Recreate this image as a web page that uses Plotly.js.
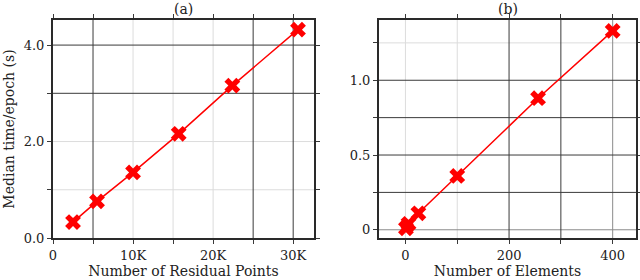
<!DOCTYPE html>
<html><head><meta charset="utf-8">
<script src="https://cdn.plot.ly/plotly-3.0.1.min.js"></script>
<style>html,body{margin:0;padding:0;background:#fff}#c{width:640px;height:280px}</style>
</head><body><div id="c"></div>
<script>
// Panel (a)
const residualPoints = [2500, 5500, 10000, 15700, 22400, 30600];
const timeA = [0.33, 0.76, 1.36, 2.16, 3.16, 4.32];
// Panel (b)
const elements = [1, 6, 25, 100, 256, 400];
const timeB = [0.01, 0.04, 0.11, 0.36, 0.88, 1.33];

const xTickValsA = [0, 5000, 10000, 15000, 20000, 25000, 30000];
const xTickTextA = ['0', '', '10K', '', '20K', '', '30K'];
const yTickValsA = [0, 1, 2, 3, 4];
const yTickTextA = ['0.0', '', '2.0', '', '4.0'];
const xTickValsB = [0, 100, 200, 300, 400];
const xTickTextB = ['0', '', '200', '', '400'];
const yTickValsB = [0, 0.25, 0.5, 0.75, 1.0, 1.25];
const yTickTextB = ['0', '', '0.5', '', '1.0', ''];

// grid lines (as in the reference, some dark, some light)
const gridA_xDark = [5000, 25000, 30000], gridA_xLight = [10000, 15000, 20000];
const gridA_yDark = [3, 4], gridA_yLight = [1, 2];
const gridB_xDark = [200, 300], gridB_xMid = [400], gridB_xLight = [0, 100];
const gridB_yDark = [0.25, 0.5, 0.75, 1.0], gridB_yMid = [0], gridB_yLight = [1.25];

const DARK = '#3a3a3a', MID = '#8a8a8a', LIGHT = '#dcdcdc';
const FONT = 'DejaVu Serif, Liberation Serif, serif';

function vlines(vals, xref, yref, color) {
  return vals.map(v => ({type:'line', xref:xref, yref:yref + ' domain', x0:v, x1:v, y0:0, y1:1,
    line:{color:color, width:1}, layer:'below'}));
}
function hlines(vals, xref, yref, color) {
  return vals.map(v => ({type:'line', xref:xref + ' domain', yref:yref, x0:0, x1:1, y0:v, y1:v,
    line:{color:color, width:1}, layer:'below'}));
}

const marker = {symbol:'x', size:14, color:'#ff0000', line:{width:0}};
const traces = [
  {x: residualPoints, y: timeA, xaxis:'x', yaxis:'y', mode:'lines+markers',
   line:{color:'#ff0000', width:1.5}, marker: marker},
  {x: elements, y: timeB, xaxis:'x2', yaxis:'y2', mode:'lines+markers',
   line:{color:'#ff0000', width:1.5}, marker: marker}
];

const axCommon = {showgrid:false, zeroline:false, showline:true, mirror:'all', linecolor:'#2a2a2a', linewidth:2,
  ticks:'outside', ticklen:4, tickcolor:DARK, tickwidth:1, tickmode:'array',
  tickfont:{family:FONT, size:13, color:'#222'}};
const titleFont = {family:FONT, size:14, color:'#222'};

const layout = {
  width:640, height:280, paper_bgcolor:'#fff', plot_bgcolor:'#fff', showlegend:false,
  margin:{l:0, r:0, t:20, b:42},
  font:{family:FONT, color:'#222'},
  xaxis: Object.assign({}, axCommon, {domain:[53/640, 314/640], range:[0, 32600],
    tickvals:xTickValsA, ticktext:xTickTextA,
    title:{text:'Number of Residual Points', font:titleFont, standoff:3}}),
  yaxis: Object.assign({}, axCommon, {domain:[0,1], range:[0, 4.52], anchor:'x',
    tickvals:yTickValsA, ticktext:yTickTextA,
    title:{text:'Median time/epoch (s)', font:titleFont, standoff:6}}),
  xaxis2: Object.assign({}, axCommon, {domain:[379/640, 636/640], range:[-51, 445], anchor:'y2',
    tickvals:xTickValsB, ticktext:xTickTextB,
    title:{text:'Number of Elements', font:titleFont, standoff:3}}),
  yaxis2: Object.assign({}, axCommon, {domain:[0,1], range:[-0.055, 1.403], anchor:'x2',
    tickvals:yTickValsB, ticktext:yTickTextB}),
  shapes: [].concat(
    vlines(gridA_xLight, 'x', 'y', LIGHT), hlines(gridA_yLight, 'x', 'y', LIGHT),
    vlines(gridA_xDark, 'x', 'y', DARK), hlines(gridA_yDark, 'x', 'y', DARK),
    vlines(gridB_xLight, 'x2', 'y2', LIGHT), hlines(gridB_yLight, 'x2', 'y2', LIGHT),
    vlines(gridB_xMid, 'x2', 'y2', MID), hlines(gridB_yMid, 'x2', 'y2', MID),
    vlines(gridB_xDark, 'x2', 'y2', DARK), hlines(gridB_yDark, 'x2', 'y2', DARK)
  ),
  annotations: [
    {text:'(a)', xref:'x domain', yref:'paper', x:0.5, y:1, yanchor:'bottom', yshift:1, showarrow:false,
     font:titleFont},
    {text:'(b)', xref:'x2 domain', yref:'paper', x:0.5, y:1, yanchor:'bottom', yshift:1, showarrow:false,
     font:titleFont}
  ]
};
Plotly.newPlot('c', traces, layout, {staticPlot:true, displayModeBar:false});
</script></body></html>
